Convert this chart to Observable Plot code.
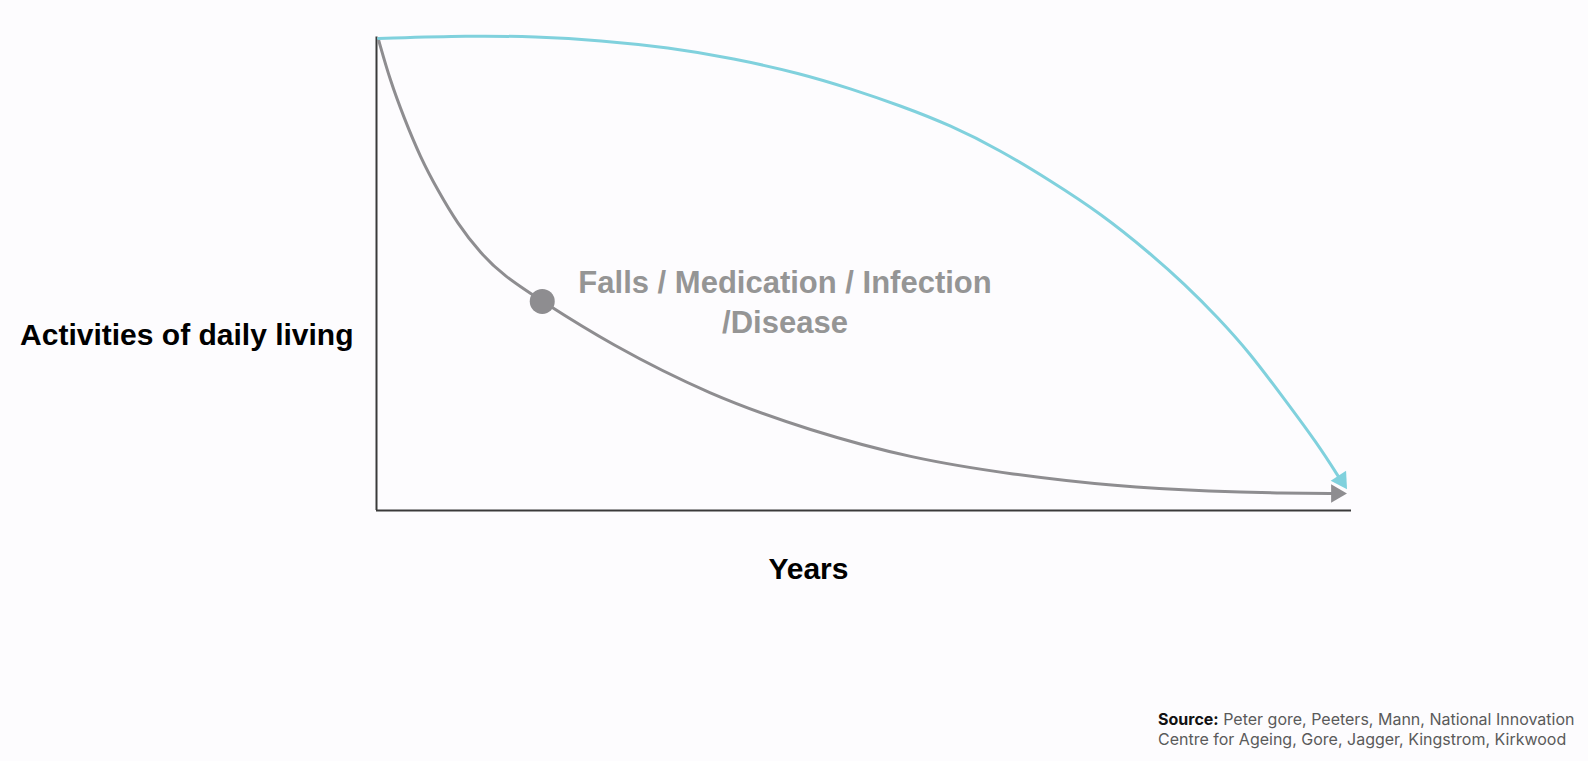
<!DOCTYPE html>
<html>
<head>
<meta charset="utf-8">
<script src="https://cdn.jsdelivr.net/npm/d3@7"></script>
<script src="https://cdn.jsdelivr.net/npm/@observablehq/plot@0.6"></script>
<style>
  html, body { margin: 0; padding: 0; background: #fdfcfe; }
  #wrap { position: relative; width: 1588px; height: 761px; }
  #caption {
    position: absolute; left: 1158px; top: 710px;
    font-family: Inter, "Liberation Sans", sans-serif; font-size: 16px;
    line-height: 19.5px; color: #5a5a5a; white-space: nowrap;
  }
  #caption b { color: #111; font-weight: 700; }
</style>
</head>
<body>
<div id="wrap">
  <div id="chart"></div>
  <div id="caption"><b>Source:</b> Peter gore, Peeters, Mann, National Innovation<br>Centre for Ageing, Gore, Jagger, Kingstrom, Kirkwood</div>
</div>
<script>
// Healthy ageing trajectory (blue) – years vs activities of daily living (0–100 abstract scale)
const healthyYears = [0.2, 9.6, 16.3, 23.0, 29.9, 36.6, 43.5, 48.6, 53.7, 58.9, 64.0, 69.1, 74.3, 79.4, 82.8, 86.3, 89.6, 93.0, 96.5, 98.9];
const healthyADL   = [100, 100.6, 100.4, 99.6, 98.1, 95.8, 92.6, 89.4, 85.8, 81.6, 76.3, 69.9, 62.9, 54.4, 48.1, 40.9, 33.3, 23.9, 14.2, 6.4];

// Accelerated decline trajectory (grey)
const declineYears = [0.2, 1.4, 2.8, 4.5, 6.3, 8.3, 10.7, 13.0, 17.0, 23.8, 34.2, 44.5, 54.9, 65.3, 75.7, 86.1, 92.3, 98.9];
const declineADL   = [99.8, 91.1, 83.3, 74.8, 67.8, 60.8, 54.4, 49.8, 44.3, 35.4, 24.4, 16.9, 11.0, 7.6, 5.1, 4.0, 3.7, 3.6];

// Event marker on the decline curve
const eventYears = [17.0];
const eventADL = [44.3];
const eventLabel = "Falls / Medication / Infection\n/Disease";
const eventLabelYears = 41.9;
const eventLabelADL = 44.6;

// Arrow heads at the end of each trajectory
const arrowSeries = ["healthy", "decline"];
const arrowYears = [98.95, 98.45];
const arrowADL = [6.4, 3.6];
const arrowAngle = [147, 90];

const xLabel = "Years";
const yLabel = "Activities of daily living";

const healthy = healthyYears.map((x, i) => ({x, y: healthyADL[i]}));
const decline = declineYears.map((x, i) => ({x, y: declineADL[i]}));
const heads = arrowSeries.map((s, i) => ({s, x: arrowYears[i], y: arrowADL[i], r: arrowAngle[i]}));

const BLUE = "#80d1dd";
const GREY = "#8e8d90";
const FONT = "'Liberation Sans', Arial, Helvetica, sans-serif";

const chart = Plot.plot({
  width: 1588,
  height: 600,
  marginLeft: 376,
  marginRight: 237,
  marginTop: 38,
  marginBottom: 90,
  style: {background: "transparent", fontFamily: FONT, overflow: "visible"},
  x: {domain: [0, 100], axis: null},
  y: {domain: [0, 100], axis: null},
  marks: [
    Plot.ruleX([0], {y1: 0, y2: 100.3, stroke: "#3a3a3a", strokeWidth: 2}),
    Plot.ruleY([0], {x1: 0, x2: 100, stroke: "#3a3a3a", strokeWidth: 2}),
    Plot.line(decline, {x: "x", y: "y", curve: "basis", stroke: GREY, strokeWidth: 3}),
    Plot.line(healthy, {x: "x", y: "y", curve: "basis", stroke: BLUE, strokeWidth: 3}),
    Plot.dot(heads, {x: "x", y: "y", rotate: "r", symbol: "triangle", r: 6.8,
      fill: d => d.s === "healthy" ? BLUE : GREY, stroke: "none"}),
    Plot.dot(eventYears.map((x, i) => ({x, y: eventADL[i]})), {x: "x", y: "y", r: 12.5, fill: GREY}),
    Plot.text([eventLabel], {x: eventLabelYears, y: eventLabelADL, text: d => d,
      fontSize: 31, fontWeight: "bold", fill: "#959595", textAnchor: "middle", lineHeight: 1.29}),
    Plot.text([yLabel], {x: 0, y: 37.1, text: d => d, textAnchor: "end", dx: -23,
      fontSize: 30, fontWeight: "bold", fill: "#000"}),
    Plot.text([xLabel], {x: 44.3, y: 0, text: d => d, dy: 58.5,
      fontSize: 30, fontWeight: "bold", fill: "#000"})
  ]
});
document.getElementById("chart").appendChild(chart);
</script>
</body>
</html>
